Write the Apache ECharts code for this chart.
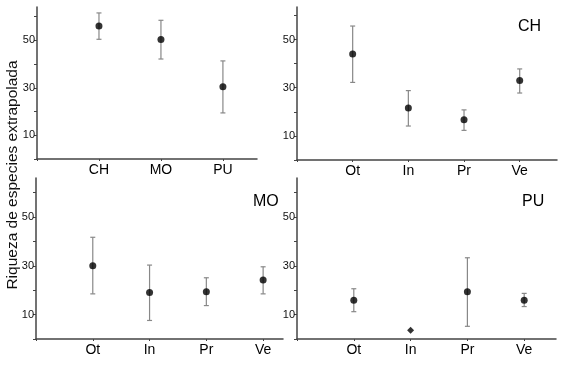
<!DOCTYPE html>
<html><head><meta charset="utf-8">
<script src="https://cdn.jsdelivr.net/npm/echarts@6/dist/echarts.min.js"></script>
<style>html,body{margin:0;padding:0;background:#fff}#c{width:567px;height:365px}</style>
</head><body><div id="c"></div>
<script>
const topCats = ['CH', 'MO', 'PU'];
const topMean = [56.0, 50.3, 30.4];
const topLow  = [50.4, 42.1, 19.4];
const topHigh = [61.5, 58.4, 41.3];

const groupCats = ['Ot', 'In', 'Pr', 'Ve'];
const chMean = [44.0, 21.6, 16.7, 33.0];
const chLow  = [32.2, 14.1, 12.3, 27.8];
const chHigh = [55.6, 28.8, 20.8, 37.8];

const moMean = [30.0, 19.1, 19.4, 24.2];
const moLow  = [18.5, 7.6, 13.7, 18.5];
const moHigh = [41.7, 30.3, 25.1, 29.6];

const puMean = [15.9, 3.6, 19.4, 15.9];
const puLow  = [11.2, 3.6, 5.2, 13.3];
const puHigh = [20.6, 3.6, 33.3, 18.7];

const yLabels = [10, 30, 50];
const panelTitles = ['CH', 'MO', 'PU'];

const FONT = '"Liberation Sans", Arial, sans-serif';
const chart = echarts.init(document.getElementById('c'), null, {renderer: 'canvas'});

const panels = [
  {cats: topCats, mean: topMean, low: topLow, high: topHigh, grid: {left: 37, top: 7, width: 220, height: 152}, xmax: 3.55, ymax: 64},
  {cats: groupCats, mean: chMean, low: chLow, high: chHigh, grid: {left: 297, top: 7, width: 260, height: 153}, xmax: 4.67, ymax: 63.5},
  {cats: groupCats, mean: moMean, low: moLow, high: moHigh, grid: {left: 36, top: 178, width: 247, height: 161}, xmax: 4.35, ymax: 66},
  {cats: groupCats, mean: puMean, low: puLow, high: puHigh, grid: {left: 297, top: 178, width: 259, height: 161}, xmax: 4.56, ymax: 66}
];

const grids = [], xAxes = [], yAxes = [], series = [];
panels.forEach((p, i) => {
  grids.push(p.grid);
  xAxes.push({
    type: 'value', gridIndex: i, min: 0, max: p.xmax, interval: 1,
    splitLine: {show: false},
    axisLine: {show: true, lineStyle: {color: '#444', width: 1.5}},
    axisTick: {show: true, length: 2, lineStyle: {color: '#444'}},
    axisLabel: {
      color: '#000', fontSize: 14, fontFamily: FONT, margin: 4, showMaxLabel: false,
      formatter: v => (Number.isInteger(v) && v >= 1 && v <= p.cats.length) ? p.cats[v - 1] : ''
    }
  });
  yAxes.push({
    type: 'value', gridIndex: i, min: 0, max: p.ymax, interval: 10,
    splitLine: {show: false},
    axisLine: {show: true, lineStyle: {color: '#444', width: 1.5}},
    axisTick: {show: true, length: 3, lineStyle: {color: '#444'}},
    axisLabel: {
      color: '#111', fontSize: 11, fontFamily: FONT, margin: 2, showMaxLabel: false,
      formatter: v => yLabels.indexOf(v) >= 0 ? String(v) : ''
    }
  });
  const errData = p.mean.map((m, k) => [k + 1, p.low[k], p.high[k]]).filter(d => d[2] > d[1]);
  series.push({
    type: 'custom', xAxisIndex: i, yAxisIndex: i, data: errData, silent: true,
    renderItem: (params, api) => {
      const x = api.value(0);
      const lo = api.coord([x, api.value(1)]);
      const hi = api.coord([x, api.value(2)]);
      const w = 2.5;
      const st = {stroke: '#888', lineWidth: 1.2};
      return {type: 'group', children: [
        {type: 'line', shape: {x1: lo[0], y1: lo[1], x2: hi[0], y2: hi[1]}, style: st},
        {type: 'line', shape: {x1: lo[0] - w, y1: lo[1], x2: lo[0] + w, y2: lo[1]}, style: st},
        {type: 'line', shape: {x1: hi[0] - w, y1: hi[1], x2: hi[0] + w, y2: hi[1]}, style: st}
      ]};
    },
    z: 2
  });
  series.push({
    type: 'scatter', xAxisIndex: i, yAxisIndex: i,
    data: p.mean.map((m, k) => {
      const d = {value: [k + 1, m]};
      if (p.high[k] <= p.low[k]) { d.symbol = 'diamond'; d.symbolSize = 7; }
      return d;
    }),
    symbol: 'circle', symbolSize: 7,
    itemStyle: {color: '#000'}, z: 3, silent: true
  });
});

chart.setOption({
  animation: false,
  backgroundColor: '#fff',
  grid: grids, xAxis: xAxes, yAxis: yAxes, series: series,
  graphic: [
    {type: 'text', left: 518, top: 19, style: {text: panelTitles[0], fontSize: 16, fontFamily: FONT, fill: '#000'}},
    {type: 'text', left: 253, top: 194, style: {text: panelTitles[1], fontSize: 16, fontFamily: FONT, fill: '#000'}},
    {type: 'text', left: 522, top: 194, style: {text: panelTitles[2], fontSize: 16, fontFamily: FONT, fill: '#000'}},
    {type: 'text', x: 13, y: 175, rotation: Math.PI / 2,
     style: {text: 'Riqueza de especies extrapolada', fontSize: 15.5, fontFamily: FONT, fill: '#111', align: 'center', verticalAlign: 'middle'}}
  ]
});
</script></body></html>
